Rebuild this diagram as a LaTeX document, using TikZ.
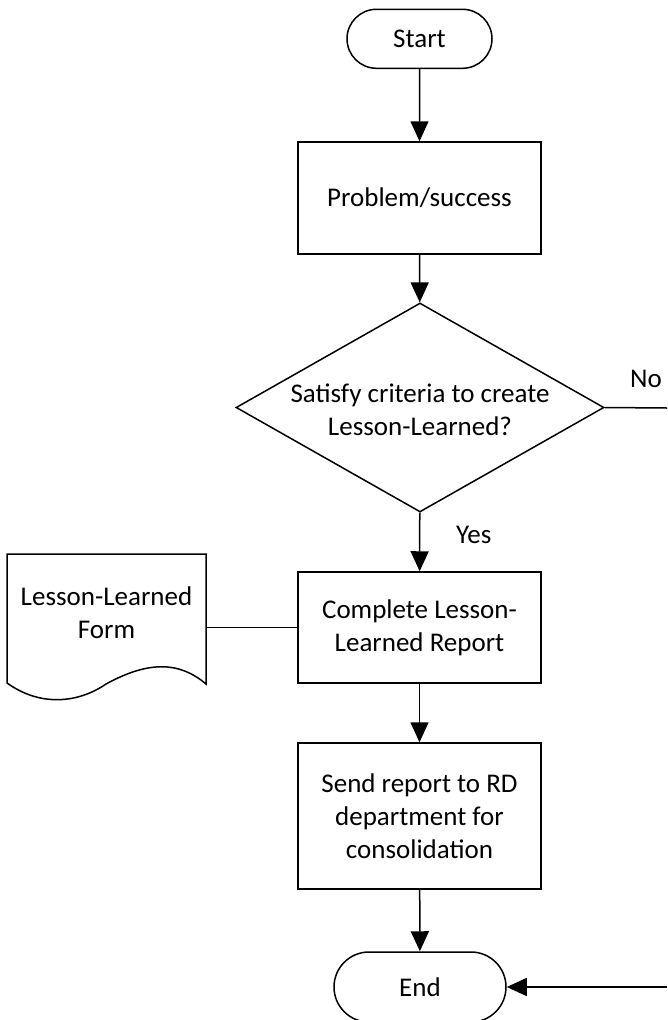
\documentclass[tikz,border=0pt]{standalone}
\usepackage{fontspec}
\setmainfont{Carlito}
\usetikzlibrary{arrows.meta,shapes.geometric,shapes.misc}
\begin{document}
\begin{tikzpicture}[x=1pt,y=-1pt,
  every node/.style={font=\fontsize{27}{33}\selectfont},
  line/.style={line width=1.5pt},
  arr/.style={line, -{Triangle[length=20pt,width=18pt]}},
  terminal/.style={rounded rectangle, draw, line width=1.5pt, inner sep=0pt},
  process/.style={rectangle, draw, line width=1.5pt, inner sep=0pt, minimum width=243pt, align=center},
  decision/.style={diamond, draw, line width=1.5pt, inner sep=0pt, minimum width=368pt, minimum height=209pt},
  lbl/.style={inner sep=0pt, align=center}]
\useasboundingbox (0,0) rectangle (667,1020);

\node[terminal, minimum width=145pt, minimum height=59pt] (start) at (419.5,38.8) {Start};
\node[process, minimum height=112pt] (ps) at (419.5,198) {Problem/success};
\node[decision] (dec) at (420,407.5) {};
\node[lbl] (dectext) at (420,410) {Satisfy criteria to create\\Lesson-Learned?};
\node[process, minimum height=111pt] (cl) at (419.5,627.5) {Complete Lesson-\\Learned Report};
\node[process, minimum height=146pt] (sr) at (419.5,816) {Send report to RD\\department for\\consolidation};
\node[terminal, minimum width=172pt, minimum height=70pt] (end) at (420,987) {End};

% document shape
\node[lbl, minimum width=199pt, minimum height=131pt] (doc) at (106.5,619.5) {};
\node[lbl] (doctext) at (106.5,613) {Lesson-Learned\\Form};
\draw[line, line join=miter] (7,683) -- (7,554) -- (206,554) -- (206,684)
  .. controls (180,662) and (150,660) .. (106,684)
  .. controls (80,702) and (42,708) .. (7,683) -- cycle;

\node[anchor=base west, inner sep=0pt] (yes) at (456,543) {Yes};
\node[anchor=base west, inner sep=0pt] (no) at (630,387) {No};

\coordinate (noout) at (667,408);
\coordinate (endin) at (667,987);

\draw[arr] (start) -- (ps);
\draw[arr] (ps) -- (dec);
\draw[arr] (dec) -- (cl);
\draw[arr] (cl) -- (sr);
\draw[arr] (sr) -- (end);
\draw[line] (dec.east) -- (noout);
\draw[arr] (endin) -- (end.east);
\draw[line] (doc.east |- cl.west) -- (cl.west);
\end{tikzpicture}
\end{document}
